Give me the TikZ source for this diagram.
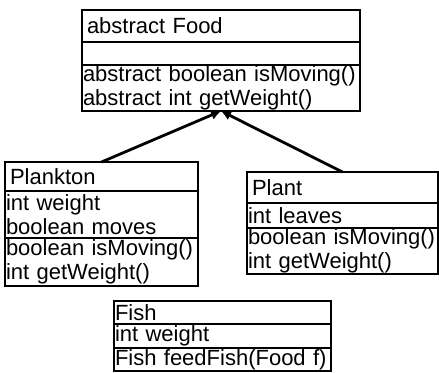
\documentclass[tikz,border=0pt]{standalone}
\usepackage{fontspec}
\setmainfont{Liberation Sans}
\usepackage{tikz}
\usetikzlibrary{arrows.meta, positioning}
\newcommand{\classfont}{\fontsize{11}{11.75}\selectfont}

\begin{document}
\begin{tikzpicture}[
    x=0.5pt, y=-0.5pt,
    node distance=0pt,
    part/.style={draw, line width=1.4pt, outer sep=0pt, inner xsep=0.5pt,
                 inner ysep=0.5pt, align=left, anchor=north west,
                 font=\classfont},
    classname/.style={execute at begin node={\hspace*{2pt}}},
    arrow/.style={-{Latex[length=5pt, width=5pt]}, line width=1.4pt},
]
\useasboundingbox (0,0) rectangle (439,372);

% Food (abstract)
\node[part, classname, text width=138pt, minimum height=16pt] (food) at (82,10) {abstract Food};
\node[part, text width=138pt, minimum height=11.5pt, below=of food] (foodattr) {};
\node[part, text width=138pt, minimum height=23pt, below=of foodattr]
    (foodops) {abstract boolean isMoving()\\abstract int getWeight()};

% Plankton
\node[part, classname, text width=95.5pt, minimum height=14.5pt] (plankton) at (5,162) {Plankton};
\node[part, text width=95.5pt, minimum height=23.5pt, below=of plankton]
    (planktonattr) {int weight\\boolean moves};
\node[part, text width=95.5pt, minimum height=24pt, below=of planktonattr]
    (planktonops) {boolean isMoving()\\int getWeight()};

% Plant
\node[part, classname, text width=94.5pt, minimum height=15.5pt] (plant) at (247,172) {Plant};
\node[part, text width=94.5pt, minimum height=12.5pt, below=of plant]
    (plantattr) {int leaves};
\node[part, text width=94.5pt, minimum height=23pt, below=of plantattr]
    (plantops) {boolean isMoving()\\int getWeight()};

% Fish
\node[part, text width=107.5pt, minimum height=11.5pt] (fish) at (114,301) {Fish};
\node[part, text width=107.5pt, minimum height=12pt, below=of fish]
    (fishattr) {int weight};
\node[part, text width=107.5pt, minimum height=11.5pt, below=of fishattr]
    (fishops) {Fish feedFish(Food f)};

\draw[arrow] (plankton.north) -- (foodops.south);
\draw[arrow] (plant.north) -- (foodops.south);
\end{tikzpicture}
\end{document}
